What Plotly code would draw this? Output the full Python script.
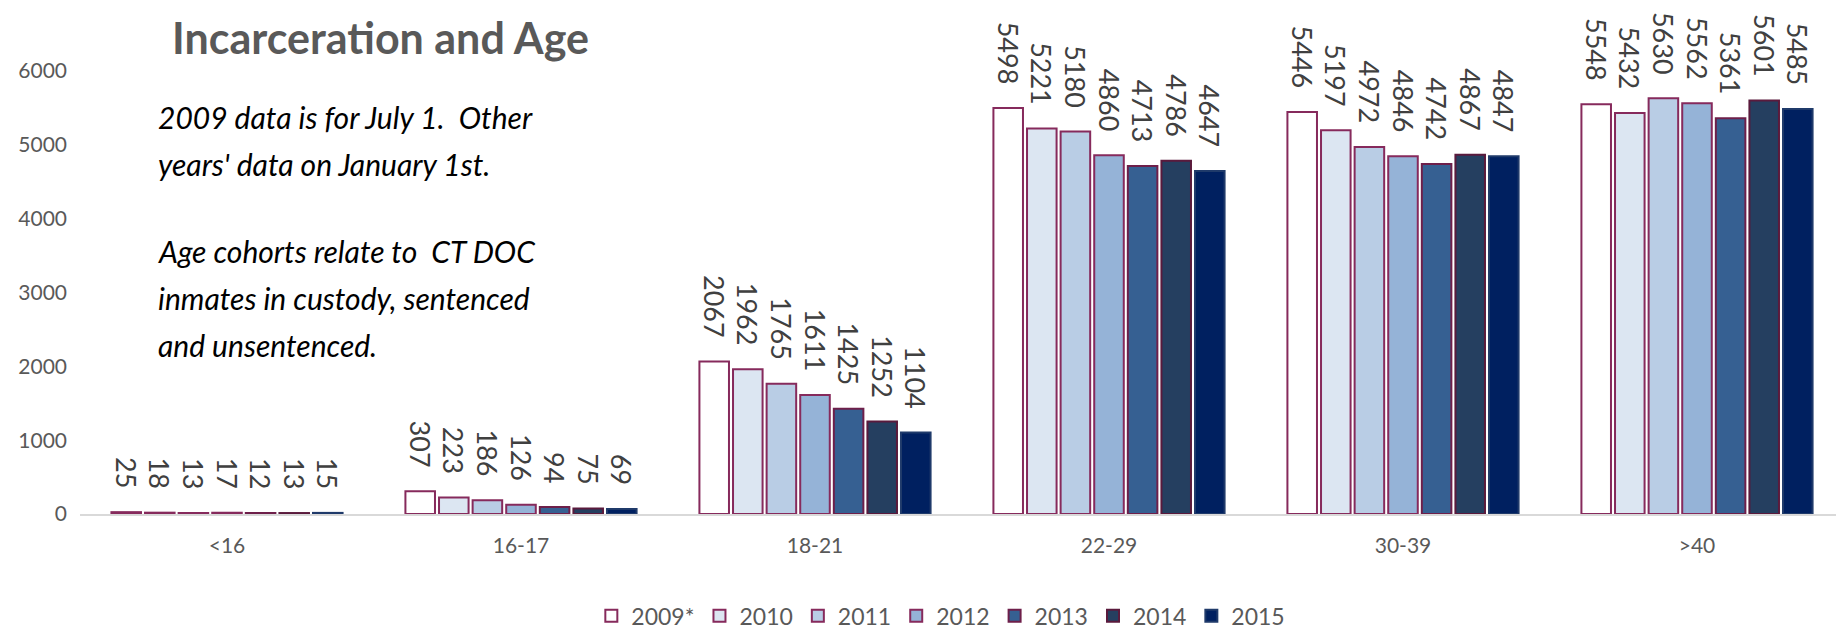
import plotly.graph_objects as go

categories = ["<16", "16-17", "18-21", "22-29", "30-39", ">40"]
years = ["2009*", "2010", "2011", "2012", "2013", "2014", "2015"]
v2009 = [25, 307, 2067, 5498, 5446, 5548]
v2010 = [18, 223, 1962, 5221, 5197, 5432]
v2011 = [13, 186, 1765, 5180, 4972, 5630]
v2012 = [17, 126, 1611, 4860, 4846, 5562]
v2013 = [12, 94, 1425, 4713, 4742, 5361]
v2014 = [13, 75, 1252, 4786, 4867, 5601]
v2015 = [15, 69, 1104, 4647, 4847, 5485]
series = [v2009, v2010, v2011, v2012, v2013, v2014, v2015]

fills = ["#FFFFFF", "#DCE6F2", "#B9CDE5", "#95B3D7", "#366092", "#253F60", "#002060"]
borders = ["#862A5C", "#862A5C", "#862A5C", "#862A5C", "#6E1F4A", "#5A1A3C", "#1F3A6A"]

pad = "\u00a0" * 3

fig = go.Figure()
for name, vals, fc, bc in zip(years, series, fills, borders):
    fig.add_trace(go.Bar(
        name=name, x=categories, y=vals,
        marker=dict(color=fc, line=dict(color=bc, width=2)),
        text=[str(v) + pad for v in vals], textposition="outside", textangle=90,
        constraintext="none",
        textfont=dict(family="Lato", size=27, color="#404040"),
        cliponaxis=False,
    ))

fig.update_layout(
    width=1844, height=638,
    margin=dict(l=72, r=8, t=63, b=130),
    paper_bgcolor="white", plot_bgcolor="white",
    barmode="group", bargap=0.2, bargroupgap=0.12,
    xaxis=dict(showline=True, linecolor="#D9D9D9", linewidth=2,
               ticks="outside", ticklen=12, tickcolor="rgba(0,0,0,0)",
               tickfont=dict(family="Lato", size=21, color="#595959")),
    yaxis=dict(range=[0, 6000], tickvals=[0, 1000, 2000, 3000, 4000, 5000, 6000],
               showgrid=False, zeroline=False, showline=False,
               ticklabelstandoff=12,
               tickfont=dict(family="Lato", size=21, color="#595959")),
    legend=dict(orientation="h", x=0.488, xanchor="center", y=-0.23, yanchor="middle",
                font=dict(family="Lato", size=23, color="#595959"),
                itemwidth=30, tracegroupgap=0),
    showlegend=True,
)

fig.add_annotation(text="<b>Incarceration and Age</b>", xref="paper", yref="paper",
                   x=(162 - 72) / 1764, y=(508 - 29) / 445, xanchor="left", yanchor="middle",
                   showarrow=False, font=dict(family="Lato", size=43, color="#595959"))

note_lines = ["2009 data is for July 1.  Other", "years' data on January 1st.", "",
              "Age cohorts relate to  CT DOC", "inmates in custody, sentenced", "and unsentenced."]
ys = [109, 156, 200, 244, 291, 338]
for line, yy in zip(note_lines, ys):
    if not line:
        continue
    fig.add_annotation(text="<i>" + line + "</i>", xref="paper", yref="paper",
                       x=(148 - 72) / 1764, y=(508 - yy) / 445, xanchor="left", yanchor="middle",
                       showarrow=False, font=dict(family="Lato", size=30, color="#000000"))

fig.write_html("out.html")
